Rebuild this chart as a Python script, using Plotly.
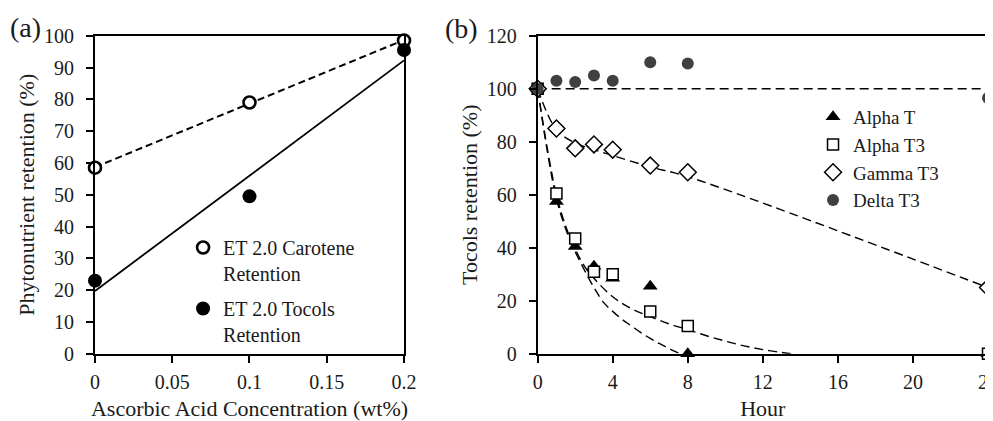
import numpy as np
import plotly.graph_objects as go

# ---------------- Panel (a) data ----------------
acid_conc = [0.0, 0.1, 0.2]
carotene_ret = [58.5, 79.0, 98.5]
tocols_ret = [23.0, 49.5, 95.5]

# ---------------- Panel (b) data ----------------
hours = [0, 1, 2, 3, 4, 6, 8, 24]
alpha_t = [100, 57.5, 40.5, 33, 28.5, 25.5, 0, 0]
alpha_t3 = [100, 60.5, 43.5, 31, 30, 16, 10.5, 0]
gamma_t3 = [100, 85, 77.5, 79, 77, 71, 68.5, 25]
delta_t3 = [100, 103, 102.5, 105, 103, 110, 109.5, 96.5]

# fitted (trend) curves
alpha_t_fit_h = [0, 0.5, 1, 1.5, 2, 2.5, 3, 3.5, 4, 4.5, 5, 5.5, 6, 6.5, 7, 7.6]
alpha_t_fit = [100, 77, 58.5, 47, 38.5, 31.5, 25, 19.5, 16, 13, 10.5, 8, 5.8, 3.8, 2, 0]
alpha_t3_fit_h = [0, 0.5, 1, 1.5, 2, 2.5, 3, 4, 5, 6, 7, 8, 9, 10, 11, 12, 13, 13.5]
alpha_t3_fit = [100, 78, 60, 48, 39.5, 33, 28.5, 21.5, 17, 14, 11.3, 9.1, 6.8, 4.8, 3, 1.6, 0.5, 0]
gamma_t3_fit = [100, 84.5, 79.5, 77, 74.8, 70.5, 66.8, 25]
delta_t3_fit_h = [0, 24]
delta_t3_fit = [100, 100]

FONT = "Liberation Serif, Times New Roman, Times, serif"
TXT = "#1a1a1a"

# linear trend lines for panel (a)
xa = np.array(acid_conc)
car_c = np.polyfit(xa, carotene_ret, 1)
toc_c = np.polyfit(xa, tocols_ret, 1)

fig = go.Figure()

# ---- panel (a) ----
fig.add_trace(go.Scatter(x=acid_conc, y=np.polyval(car_c, xa), mode="lines",
                         line=dict(color="black", width=2, dash="7px,4px"),
                         showlegend=False, hoverinfo="skip", xaxis="x", yaxis="y"))
fig.add_trace(go.Scatter(x=acid_conc, y=np.polyval(toc_c, xa), mode="lines",
                         line=dict(color="black", width=1.8),
                         showlegend=False, hoverinfo="skip", xaxis="x", yaxis="y"))
fig.add_trace(go.Scatter(x=acid_conc, y=carotene_ret, mode="markers",
                         name="ET 2.0 Carotene<br>Retention",
                         marker=dict(symbol="circle", size=12, color="white",
                                     line=dict(color="black", width=2.6)),
                         cliponaxis=False, legend="legend", legendgroup="car",
                         xaxis="x", yaxis="y"))
fig.add_trace(go.Scatter(x=acid_conc, y=tocols_ret, mode="markers",
                         name="ET 2.0 Tocols<br>Retention",
                         marker=dict(symbol="circle", size=14, color="black"),
                         cliponaxis=False, legend="legend", legendgroup="toc",
                         xaxis="x", yaxis="y"))

# ---- panel (b) fits ----
dash_b = "9px,5px"
fig.add_trace(go.Scatter(x=alpha_t_fit_h, y=alpha_t_fit, mode="lines", line_shape="spline",
                         line=dict(color="black", width=1.4, dash=dash_b),
                         showlegend=False, hoverinfo="skip", xaxis="x2", yaxis="y2"))
fig.add_trace(go.Scatter(x=alpha_t3_fit_h, y=alpha_t3_fit, mode="lines", line_shape="spline",
                         line=dict(color="black", width=1.4, dash=dash_b),
                         showlegend=False, hoverinfo="skip", xaxis="x2", yaxis="y2"))
fig.add_trace(go.Scatter(x=hours, y=gamma_t3_fit, mode="lines", line_shape="spline",
                         line=dict(color="black", width=1.4, dash=dash_b),
                         showlegend=False, hoverinfo="skip", xaxis="x2", yaxis="y2"))
fig.add_trace(go.Scatter(x=delta_t3_fit_h, y=delta_t3_fit, mode="lines",
                         line=dict(color="black", width=1.4, dash=dash_b),
                         showlegend=False, hoverinfo="skip", xaxis="x2", yaxis="y2"))

# ---- panel (b) markers ----
fig.add_trace(go.Scatter(x=hours, y=alpha_t, mode="markers", name="Alpha T",
                         marker=dict(symbol="triangle-up", size=13, color="black"),
                         cliponaxis=False, legend="legend2", xaxis="x2", yaxis="y2"))
fig.add_trace(go.Scatter(x=hours, y=alpha_t3, mode="markers", name="Alpha T3",
                         marker=dict(symbol="square", size=11, color="white",
                                     line=dict(color="black", width=1.5)),
                         cliponaxis=False, legend="legend2", xaxis="x2", yaxis="y2"))
fig.add_trace(go.Scatter(x=hours, y=gamma_t3, mode="markers", name="Gamma T3",
                         marker=dict(symbol="diamond", size=13, color="white",
                                     line=dict(color="black", width=1.5)),
                         cliponaxis=False, legend="legend2", xaxis="x2", yaxis="y2"))
fig.add_trace(go.Scatter(x=hours, y=delta_t3, mode="markers", name="Delta T3",
                         marker=dict(symbol="circle", size=12, color="#404040"),
                         cliponaxis=False, legend="legend2", xaxis="x2", yaxis="y2"))

axis_common = dict(showline=True, linecolor="black", linewidth=1.8, mirror=True,
                   ticks="outside", ticklen=7, tickwidth=1.5, tickcolor="black",
                   showgrid=False, zeroline=False, automargin=False,
                   tickfont=dict(family=FONT, size=20, color=TXT))
TITLE_FONT = dict(family=FONT, size=22, color=TXT)

# the page draws the figure 8 px in from the top-left corner of the window
Y_TOP, Y_BOT = 0.9342, 0.1786

fig.update_layout(
    width=993, height=421,
    margin=dict(l=0, r=0, t=0, b=0, autoexpand=False),
    paper_bgcolor="white", plot_bgcolor="white",
    font=dict(family=FONT, size=20, color=TXT),
    xaxis=dict(domain=[0.0876, 0.3988], range=[0, 0.2], dtick=0.05, tick0=0,
               title=dict(text="Ascorbic Acid Concentration (wt%)",
                          font=TITLE_FONT, standoff=9),
               ticklabelstandoff=2, **axis_common),
    yaxis=dict(domain=[Y_BOT, Y_TOP], range=[0, 100], dtick=10, tick0=0,
               title=dict(text="Phytonutrient retention (%)",
                          font=TITLE_FONT, standoff=3),
               ticklabelstandoff=8, anchor="x", **axis_common),
    xaxis2=dict(domain=[0.5334, 0.9869], range=[0, 24], dtick=4, tick0=0,
                title=dict(text="Hour", font=TITLE_FONT, standoff=9),
                ticklabelstandoff=2, anchor="y2", **axis_common),
    yaxis2=dict(domain=[Y_BOT, Y_TOP], range=[0, 120], dtick=20, tick0=0,
                title=dict(text="Tocols retention (%)",
                           font=TITLE_FONT, standoff=3),
                ticklabelstandoff=8, anchor="x2", **axis_common),
    legend=dict(x=0.1763, y=0.4774, xanchor="left", yanchor="top",
                bgcolor="rgba(0,0,0,0)", borderwidth=0, valign="top",
                tracegroupgap=6,
                font=dict(family=FONT, size=20, color=TXT)),
    legend2=dict(x=0.8107, y=0.7862, xanchor="left", yanchor="top",
                 bgcolor="rgba(0,0,0,0)", borderwidth=0,
                 font=dict(family=FONT, size=19, color=TXT)),
    annotations=[
        dict(text="(a)", x=17 / 993, y=1 - 19 / 421, xref="paper", yref="paper",
             xanchor="center", yanchor="middle",
             showarrow=False, font=dict(family=FONT, size=28, color=TXT)),
        dict(text="(b)", x=453 / 993, y=1 - 20 / 421, xref="paper", yref="paper",
             xanchor="center", yanchor="middle",
             showarrow=False, font=dict(family=FONT, size=28, color=TXT)),
    ],
)

fig.write_html("out.html")
